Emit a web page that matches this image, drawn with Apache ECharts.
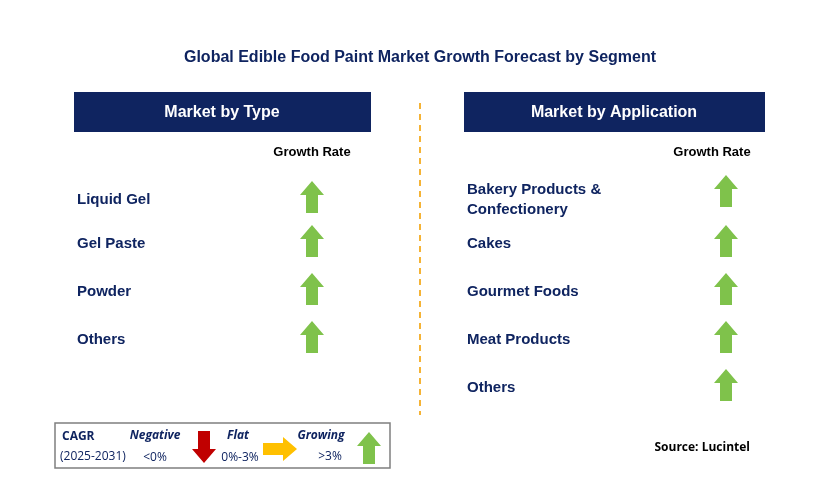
<!DOCTYPE html>
<html><head><meta charset="utf-8">
<script src="https://cdn.jsdelivr.net/npm/echarts@6/dist/echarts.min.js"></script>
<style>html,body{margin:0;padding:0;background:#fff}#c{width:829px;height:501px}</style>
</head><body><div id="c"></div>
<script>
const title = 'Global Edible Food Paint Market Growth Forecast by Segment';
const typeCategories = ['Liquid Gel', 'Gel Paste', 'Powder', 'Others'];
const typeTrend = ['up', 'up', 'up', 'up'];
const appCategories = ['Bakery Products &\nConfectionery', 'Cakes', 'Gourmet Foods', 'Meat Products', 'Others'];
const appTrend = ['up', 'up', 'up', 'up', 'up'];
const typeRowY = [198, 242, 290, 338];
const appRowY = [198, 242, 290, 338, 386];

const NAVY = '#0f2460';
const GREEN = '#7fc24b';
const FONT = '"Liberation Sans", Arial, sans-serif';
const LFONT = '"Open Sans", ' + FONT;

function upArrow(cx, cy, color) {
  return { type: 'polygon', shape: { points: [[cx, cy - 16], [cx + 12, cy - 2], [cx + 6, cy - 2], [cx + 6, cy + 16], [cx - 6, cy + 16], [cx - 6, cy - 2], [cx - 12, cy - 2]] }, style: { fill: color || GREEN } };
}
function downArrow(cx, cy) {
  return { type: 'polygon', shape: { points: [[cx, cy + 16], [cx + 12, cy + 2], [cx + 6, cy + 2], [cx + 6, cy - 16], [cx - 6, cy - 16], [cx - 6, cy + 2], [cx - 12, cy + 2]] }, style: { fill: '#c00000' } };
}
function rightArrow(cx, cy) {
  return { type: 'polygon', shape: { points: [[cx + 17, cy], [cx + 3, cy + 12], [cx + 3, cy + 6], [cx - 17, cy + 6], [cx - 17, cy - 6], [cx + 3, cy - 6], [cx + 3, cy - 12]] }, style: { fill: '#ffc000' } };
}
function arrowFor(t, cx, cy) {
  return t === 'up' ? upArrow(cx, cy) : t === 'down' ? downArrow(cx, cy) : rightArrow(cx, cy);
}
function txt(x, y, s, o) {
  return { type: 'text', x: x, y: y + 2, style: Object.assign({ text: s, font: 'bold 15px ' + FONT, fill: NAVY, verticalAlign: 'middle' }, o || {}) };
}

const g = [];
g.push(txt(420, 56, title, { align: 'center', font: 'bold 16px ' + FONT }));
g.push({ type: 'rect', shape: { x: 74, y: 92, width: 297, height: 40 }, style: { fill: NAVY } });
g.push(txt(222, 111, 'Market by Type', { align: 'center', fill: '#fff', font: 'bold 16px ' + FONT }));
g.push({ type: 'rect', shape: { x: 464, y: 92, width: 301, height: 40 }, style: { fill: NAVY } });
g.push(txt(614, 111, 'Market by Application', { align: 'center', fill: '#fff', font: 'bold 16px ' + FONT }));
g.push({ type: 'line', shape: { x1: 420, y1: 103, x2: 420, y2: 415 }, style: { stroke: '#f5b335', lineWidth: 2, lineDash: [6, 5] } });
g.push(txt(312, 150, 'Growth Rate', { align: 'center', fill: '#000', font: 'bold 13px ' + FONT }));
g.push(txt(712, 150, 'Growth Rate', { align: 'center', fill: '#000', font: 'bold 13px ' + FONT }));

typeCategories.forEach((c, i) => {
  g.push(txt(77, typeRowY[i], c));
  g.push(arrowFor(typeTrend[i], 312, typeRowY[i] - 1));
});
appCategories.forEach((c, i) => {
  g.push(txt(467, appRowY[i], c, { lineHeight: 20 }));
  g.push(arrowFor(appTrend[i], 726, appRowY[i] - (i === 0 ? 7 : 1)));
});

// legend box
g.push({ type: 'rect', shape: { x: 55, y: 423, width: 335, height: 45 }, style: { fill: '#fff', stroke: '#7f7f7f', lineWidth: 1.5 } });
const lf = '12px ' + LFONT;
g.push(txt(62, 435, 'CAGR', { font: 'bold 12px ' + LFONT }));
g.push(txt(60, 455, '(2025-2031)', { font: lf }));
g.push(txt(155, 434, 'Negative', { align: 'center', font: 'italic bold 12px ' + LFONT }));
g.push(txt(155, 456, '<0%', { align: 'center', font: lf }));
g.push(downArrow(204, 447));
g.push(txt(238, 434, 'Flat', { align: 'center', font: 'italic bold 12px ' + LFONT }));
g.push(txt(240, 456, '0%-3%', { align: 'center', font: lf }));
g.push(rightArrow(280, 449));
g.push(txt(321, 434, 'Growing', { align: 'center', font: 'italic bold 12px ' + LFONT }));
g.push(txt(330, 455, '>3%', { align: 'center', font: lf }));
g.push(upArrow(369, 448));

g.push(txt(750, 446, 'Source: Lucintel', { align: 'right', fill: '#000', font: 'bold 12px ' + LFONT }));

const chart = echarts.init(document.getElementById('c'));
chart.setOption({ animation: false, graphic: { elements: g } });
</script></body></html>
